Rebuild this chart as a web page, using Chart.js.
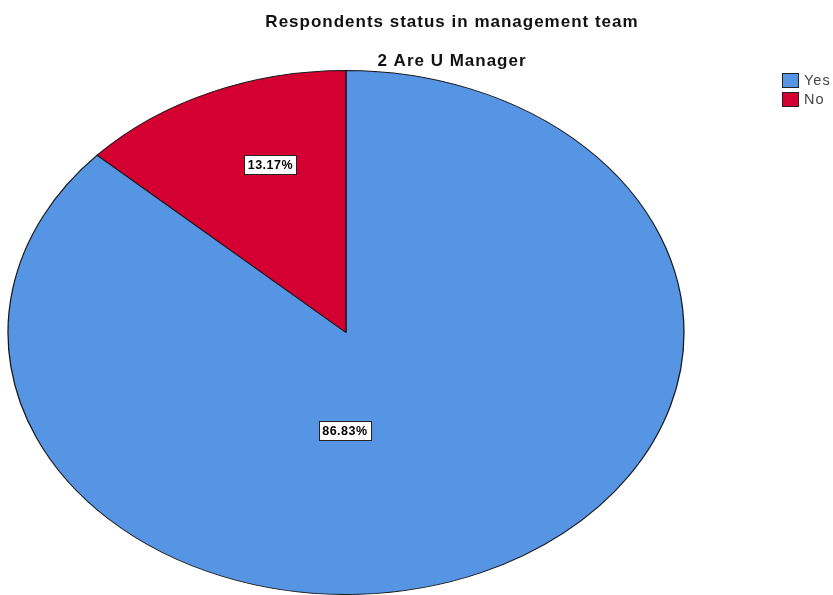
<!DOCTYPE html>
<html>
<head>
<meta charset="utf-8">
<script src="https://cdn.jsdelivr.net/npm/chart.js@4.4.1/dist/chart.umd.min.js"></script>
<style>
  html, body { margin: 0; padding: 0; background: #fff; }
  #wrap { position: relative; width: 833px; height: 595px; }
</style>
</head>
<body>
<div id="wrap"><canvas id="pie"></canvas></div>
<script>
const categories = ['Yes', 'No'];
const percents = [86.83, 13.17];
const sliceColors = ['#5694E4', '#D50032'];

const titleText = 'Respondents status in management team';
const subtitleText = '2 Are U Manager';

// the pie is drawn round by Chart.js and then stretched sideways into an oval
const stretchX = 338 / 262;
// where each percentage box sits: angle from 12 o'clock (deg) and fraction of radius
const labelSpots = [
  { angle: 180.5, r: 0.374 },
  { angle: 340.8, r: 0.68 }
];

const ovalPie = {
  id: 'ovalPie',
  beforeDatasetsDraw(chart) {
    const arc = chart.getDatasetMeta(0).data[0];
    const ctx = chart.ctx;
    ctx.save();
    ctx.translate(arc.x, arc.y);
    ctx.scale(stretchX, 1);
    ctx.translate(-arc.x, -arc.y);
  },
  afterDatasetsDraw(chart) {
    chart.ctx.restore();
  }
};

const decorations = {
  id: 'decorations',
  afterDraw(chart) {
    const ctx = chart.ctx;
    const meta = chart.getDatasetMeta(0);

    // titles
    ctx.save();
    ctx.fillStyle = '#111';
    ctx.textAlign = 'center';
    ctx.textBaseline = 'alphabetic';
    ctx.letterSpacing = '1px';
    ctx.font = 'bold 17px "Liberation Sans", Arial, sans-serif';
    ctx.fillText(titleText, 452, 27);
    ctx.fillText(subtitleText, 452, 66);
    ctx.restore();

    // percentage boxes
    meta.data.forEach((arc, i) => {
      const spot = labelSpots[i];
      const a = spot.angle * Math.PI / 180;
      const x = arc.x + Math.sin(a) * arc.outerRadius * spot.r * stretchX;
      const y = arc.y - Math.cos(a) * arc.outerRadius * spot.r;
      const text = percents[i].toFixed(2) + '%';
      ctx.save();
      ctx.letterSpacing = '0.5px';
      ctx.font = 'bold 12.5px "Liberation Sans", Arial, sans-serif';
      const w = Math.round(ctx.measureText(text).width) + 7;
      const h = 19;
      const bx = Math.round(x - w / 2) + 0.5;
      const by = Math.round(y - h / 2) + 0.5;
      ctx.fillStyle = '#fff';
      ctx.fillRect(bx, by, w, h);
      ctx.strokeStyle = '#222';
      ctx.lineWidth = 1;
      ctx.strokeRect(bx, by, w, h);
      ctx.fillStyle = '#000';
      ctx.textAlign = 'center';
      ctx.textBaseline = 'middle';
      ctx.fillText(text, x, by + h / 2 + 0.5);
      ctx.restore();
    });

    // legend
    categories.forEach((name, i) => {
      const y = 73 + i * 19;
      ctx.save();
      ctx.fillStyle = sliceColors[i];
      ctx.fillRect(782.5, y + 0.5, 16, 14);
      ctx.strokeStyle = '#222';
      ctx.lineWidth = 1;
      ctx.strokeRect(782.5, y + 0.5, 16, 14);
      ctx.fillStyle = '#444';
      ctx.letterSpacing = '1px';
      ctx.font = '14.5px "Liberation Sans", Arial, sans-serif';
      ctx.textBaseline = 'middle';
      ctx.textAlign = 'left';
      ctx.fillText(name, 804, y + 8);
      ctx.restore();
    });
  }
};

new Chart(document.getElementById('pie'), {
  type: 'pie',
  data: {
    labels: categories,
    datasets: [{
      data: percents,
      backgroundColor: sliceColors,
      borderColor: '#1a1a1a',
      borderWidth: 1,
      radius: 262
    }]
  },
  options: {
    responsive: true,
    maintainAspectRatio: false,
    animation: false,
    events: [],
    layout: { padding: { left: 0, right: 141, top: 70, bottom: 0 } },
    plugins: {
      legend: { display: false },
      title: { display: false },
      tooltip: { enabled: false }
    }
  },
  plugins: [ovalPie, decorations]
});
</script>
</body>
</html>
